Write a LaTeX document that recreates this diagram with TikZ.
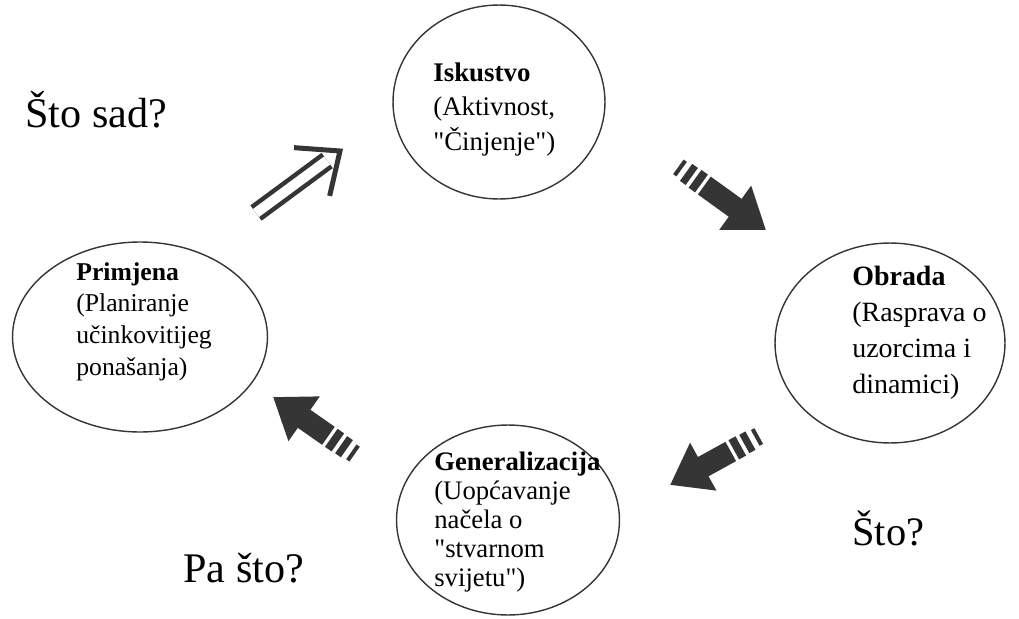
\documentclass[tikz,border=0pt]{standalone}
\usepackage{fontspec}
\setmainfont{Liberation Serif}[Ligatures=TeXOff]
\usetikzlibrary{shapes.geometric,arrows.meta,calc}
\definecolor{tamna}{HTML}{353535}

% debela strelica s trakama na repu
\newcommand{\trakastrelica}[2]{%
  \draw[tamna, line width=0.36cm] ($(#1)!-0.04cm!(#2)$) -- ($(#1)!0.04cm!(#2)$);
  \draw[tamna, line width=0.42cm] ($(#1)!0.15cm!(#2)$) -- ($(#1)!0.29cm!(#2)$);
  \draw[tamna, line width=0.44cm] ($(#1)!0.37cm!(#2)$) -- ($(#1)!0.53cm!(#2)$);
  \draw[tamna, line width=0.44cm, -{Triangle[length=0.76cm, width=1.04cm]}]
    ($(#1)!0.60cm!(#2)$) -- (#2);
}

\begin{document}
\begin{tikzpicture}[x=0.02cm, y=-0.02cm]
\tikzset{faza/.style={draw=tamna, line width=0.8pt, ellipse, inner sep=0pt},
  opis/.style={anchor=north west, inner sep=0pt, align=left},
  pitanje/.style={anchor=base west, inner sep=0pt, font=\fontsize{24}{28}\selectfont}}
\useasboundingbox (0,0) rectangle (1019,619);

% faze ciklusa
\node[faza, minimum width=4.24cm, minimum height=3.88cm] (isk) at (499,102) {};
\node[faza, minimum width=4.6cm, minimum height=4.0cm] (obr) at (890,343) {};
\node[faza, minimum width=4.46cm, minimum height=3.8cm] (gen) at (508,520) {};
\node[faza, minimum width=5.1cm, minimum height=3.8cm] (prim) at (140,337) {};

\node[opis, font=\fontsize{15.3}{19.8}\selectfont] (iskt) at (433,62)
  {\textbf{Iskustvo}\\(Aktivnost,\\"Činjenje")};
\node[opis, font=\fontsize{15.9}{20.4}\selectfont] (obrt) at (852,266)
  {\textbf{Obrada}\\(Rasprava o\\uzorcima i\\dinamici)};
\node[opis, font=\fontsize{14.6}{18.1}\selectfont] (primt) at (76,262)
  {\textbf{Primjena}\\(Planiranje\\učinkovitijeg\\ponašanja)};
\node[opis, font=\fontsize{15.2}{16.4}\selectfont] (gent) at (434,452)
  {\textbf{Generalizacija}\\(Uopćavanje\\načela o\\"stvarnom\\svijetu")};

% pitanja
\node[pitanje] (stosad) at (25,127) {Što sad?};
\node[pitanje] (pasto) at (183,582) {Pa što?};
\node[pitanje, font=\fontsize{23}{27}\selectfont] (sto) at (852,545) {Što?};

% strelice
\coordinate (d1) at (256,213);
\coordinate (d2) at (340,151);
\coordinate (d3) at ($(d2)!0.7cm!(d1)$);
\draw[tamna, line width=0.09cm, double, double distance=0.2cm] (d1) -- ($(d2)!0.32cm!(d1)$);
\draw[tamna, line width=0.1cm] ($(d3)!0.6cm!90:(d2)$) -- (d2) -- ($(d3)!0.6cm!-90:(d2)$);

\coordinate (a1) at (680,168);
\coordinate (a2) at (766,230);
\trakastrelica{a1}{a2}
\coordinate (b1) at (757,437);
\coordinate (b2) at (670,485);
\trakastrelica{b1}{b2}
\coordinate (c1) at (353,453);
\coordinate (c2) at (273,397);
\trakastrelica{c1}{c2}
\end{tikzpicture}
\end{document}
